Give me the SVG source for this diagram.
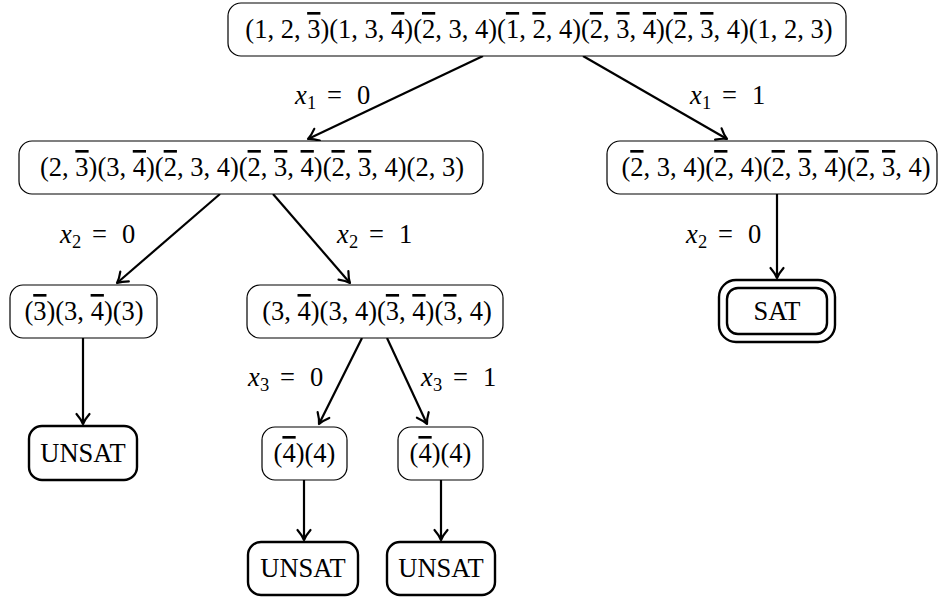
<svg xmlns="http://www.w3.org/2000/svg" width="940" height="601" viewBox="0 0 940 601">
  <style>
    .node { fill: #fff; stroke: #000; stroke-width: 1.2; }
    .term { fill: #fff; stroke: #000; stroke-width: 2.4; }
    .edge { fill: none; stroke: #000; stroke-width: 2.2; }
    .tx { font-family: "Liberation Serif", "DejaVu Serif", serif; font-size: 26.5px; fill: #000; text-anchor: middle; }
    .lb { font-family: "Liberation Serif", "DejaVu Serif", serif; font-size: 26.5px; fill: #000; }
    .it { font-style: italic; }
    .sub { font-size: 18.5px; }
    .bar { text-decoration: overline; }
  </style>
  <defs>
    <marker id="arrow" markerUnits="userSpaceOnUse" markerWidth="24" markerHeight="24" viewBox="-12 -12 24 24" refX="0" refY="0" orient="auto">
      <path d="M-10,-6.5 C-6.5,-3.5 -3,-1.2 0,0 C-3,1.2 -6.5,3.5 -10,6.5" fill="none" stroke="#000" stroke-width="2.2" stroke-linecap="round" stroke-linejoin="round"/>
    </marker>
  </defs>

  <!-- connectors -->
  <g id="edges">
    <line class="edge" x1="483" y1="56" x2="308" y2="139" marker-end="url(#arrow)"/>
    <line class="edge" x1="583" y1="56" x2="727" y2="139" marker-end="url(#arrow)"/>
    <line class="edge" x1="220" y1="194" x2="117" y2="283" marker-end="url(#arrow)"/>
    <line class="edge" x1="273" y1="194" x2="350" y2="283" marker-end="url(#arrow)"/>
    <line class="edge" x1="777" y1="194" x2="777" y2="278" marker-end="url(#arrow)"/>
    <line class="edge" x1="83" y1="338" x2="83" y2="424" marker-end="url(#arrow)"/>
    <line class="edge" x1="362" y1="338" x2="319" y2="424" marker-end="url(#arrow)"/>
    <line class="edge" x1="387" y1="338" x2="427" y2="424" marker-end="url(#arrow)"/>
    <line class="edge" x1="304" y1="480" x2="304" y2="540" marker-end="url(#arrow)"/>
    <line class="edge" x1="441" y1="480" x2="441" y2="540" marker-end="url(#arrow)"/>
  </g>

  <!-- edge labels -->
  <g id="labels">
    <text class="lb" y="104"><tspan class="it" x="295">x</tspan><tspan class="sub" x="307" dy="5">1</tspan><tspan x="327" dy="-5">=</tspan><tspan x="357">0</tspan></text>
    <text class="lb" y="104"><tspan class="it" x="690">x</tspan><tspan class="sub" x="702" dy="5">1</tspan><tspan x="722" dy="-5">=</tspan><tspan x="752">1</tspan></text>
    <text class="lb" y="243"><tspan class="it" x="60">x</tspan><tspan class="sub" x="72" dy="5">2</tspan><tspan x="92" dy="-5">=</tspan><tspan x="122">0</tspan></text>
    <text class="lb" y="243"><tspan class="it" x="337">x</tspan><tspan class="sub" x="349" dy="5">2</tspan><tspan x="369" dy="-5">=</tspan><tspan x="399">1</tspan></text>
    <text class="lb" y="243"><tspan class="it" x="686">x</tspan><tspan class="sub" x="698" dy="5">2</tspan><tspan x="718" dy="-5">=</tspan><tspan x="748">0</tspan></text>
    <text class="lb" y="386"><tspan class="it" x="248">x</tspan><tspan class="sub" x="260" dy="5">3</tspan><tspan x="280" dy="-5">=</tspan><tspan x="310">0</tspan></text>
    <text class="lb" y="386"><tspan class="it" x="421">x</tspan><tspan class="sub" x="433" dy="5">3</tspan><tspan x="453" dy="-5">=</tspan><tspan x="483">1</tspan></text>
  </g>

  <!-- nodes -->
  <g id="root">
    <rect class="node" x="228" y="3" width="618" height="53" rx="13"/>
    <text class="tx" x="539" y="38">(1, 2, <tspan class="bar">3</tspan>)(1, 3, <tspan class="bar">4</tspan>)(<tspan class="bar">2</tspan>, 3, 4)(<tspan class="bar">1</tspan>, <tspan class="bar">2</tspan>, 4)(<tspan class="bar">2</tspan>, <tspan class="bar">3</tspan>, <tspan class="bar">4</tspan>)(<tspan class="bar">2</tspan>, <tspan class="bar">3</tspan>, 4)(1, 2, 3)</text>
  </g>
  <g id="n-x1-0">
    <rect class="node" x="19" y="141" width="464" height="53" rx="13"/>
    <text class="tx" x="252" y="176">(2, <tspan class="bar">3</tspan>)(3, <tspan class="bar">4</tspan>)(<tspan class="bar">2</tspan>, 3, 4)(<tspan class="bar">2</tspan>, <tspan class="bar">3</tspan>, <tspan class="bar">4</tspan>)(<tspan class="bar">2</tspan>, <tspan class="bar">3</tspan>, 4)(2, 3)</text>
  </g>
  <g id="n-x1-1">
    <rect class="node" x="607" y="141" width="330" height="53" rx="13"/>
    <text class="tx" x="776" y="176">(<tspan class="bar">2</tspan>, 3, 4)(<tspan class="bar">2</tspan>, 4)(<tspan class="bar">2</tspan>, <tspan class="bar">3</tspan>, <tspan class="bar">4</tspan>)(<tspan class="bar">2</tspan>, <tspan class="bar">3</tspan>, 4)</text>
  </g>
  <g id="n-x2-0">
    <rect class="node" x="10" y="285" width="147" height="53" rx="13"/>
    <text class="tx" x="84" y="320">(<tspan class="bar">3</tspan>)(3, <tspan class="bar">4</tspan>)(3)</text>
  </g>
  <g id="n-x2-1">
    <rect class="node" x="247" y="285" width="256" height="53" rx="13"/>
    <text class="tx" x="377" y="320">(3, <tspan class="bar">4</tspan>)(3, 4)(<tspan class="bar">3</tspan>, <tspan class="bar">4</tspan>)(<tspan class="bar">3</tspan>, 4)</text>
  </g>
  <g id="sat">
    <rect class="term" x="719" y="280" width="116" height="62" rx="17"/>
    <rect class="term" x="727" y="288" width="100" height="46" rx="11"/>
    <text class="tx" x="777" y="320">SAT</text>
  </g>
  <g id="unsat-1">
    <rect class="term" x="29" y="426" width="108" height="54" rx="13"/>
    <text class="tx" x="83" y="462">UNSAT</text>
  </g>
  <g id="n-x3-0">
    <rect class="node" x="262" y="427" width="85" height="53" rx="13"/>
    <text class="tx" x="304.5" y="462">(<tspan class="bar">4</tspan>)(4)</text>
  </g>
  <g id="n-x3-1">
    <rect class="node" x="398" y="427" width="85" height="53" rx="13"/>
    <text class="tx" x="440.5" y="462">(<tspan class="bar">4</tspan>)(4)</text>
  </g>
  <g id="unsat-2">
    <rect class="term" x="248" y="542" width="110" height="53" rx="13"/>
    <text class="tx" x="303" y="577">UNSAT</text>
  </g>
  <g id="unsat-3">
    <rect class="term" x="387" y="542" width="108" height="53" rx="13"/>
    <text class="tx" x="441" y="577">UNSAT</text>
  </g>
</svg>
